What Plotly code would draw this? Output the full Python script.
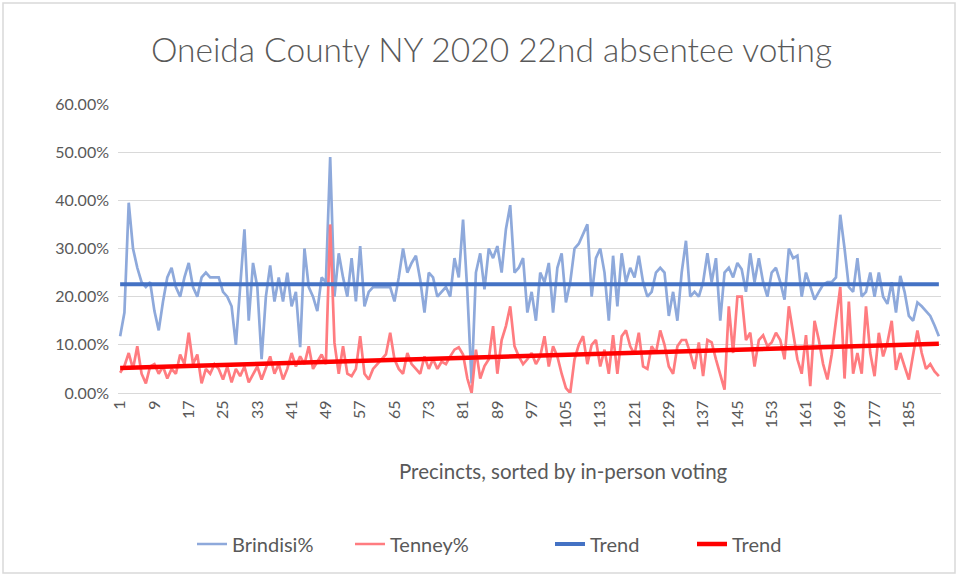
import plotly.graph_objects as go

# Brindisi% per precinct (sorted by in-person voting), in percent
brindisi = [
    11.8, 16.7, 39.5, 30, 26, 23, 22, 23, 17, 13, 19, 24,
    26, 22, 20, 24, 27, 22, 20, 24, 25, 24, 24, 24,
    21, 20, 18, 10, 22, 34, 15, 27, 22, 7, 20, 26.5,
    19, 24, 19, 25, 18, 21, 9.5, 30, 22, 20, 17, 24,
    23, 49, 20, 29, 24, 20, 28, 19, 30.5, 18, 21, 22,
    22, 22, 22, 22, 19, 24, 30, 25, 27, 28.5, 23.5, 16.7,
    25, 24, 20, 21, 22, 20, 28, 24, 36, 21, 2, 25,
    29, 21.5, 30, 28, 30.5, 25, 34, 39, 25, 26, 28, 16.7,
    21, 15, 25, 23, 27, 16.7, 26, 29, 18.8, 23, 30, 31,
    33, 35, 20, 28, 30, 25, 15, 28.5, 18, 29, 23, 26,
    24, 28.5, 23, 20, 21, 25, 26, 25, 16, 21, 15, 25,
    31.6, 20, 21, 20, 23, 29, 23, 28, 15, 25, 26, 24,
    27, 25.7, 21, 29, 23, 28, 23, 20, 25, 26, 23, 19.4,
    30, 28, 28.5, 20, 25, 22, 19.4, 21, 22.5, 23, 23, 24,
    37, 30, 22, 21, 28, 20, 21, 25, 20, 25, 20, 18.5,
    23, 16.7, 24.3, 21, 16, 15, 18.8, 18, 17, 16, 14, 11.8,
]

# Tenney% per precinct, in percent
tenney = [
    4.2, 5.6, 8.3, 5, 9.7, 4, 2, 5.5, 6, 4, 5.5, 3,
    5, 4, 8, 6, 12.5, 6, 8, 2, 5, 4, 6, 5,
    2.8, 5.5, 2.2, 5, 3.5, 5.5, 2.2, 4, 5.5, 2.8, 5, 7.6,
    4, 6, 2.8, 5, 8.3, 5.5, 7.6, 6, 9.7, 5, 6.5, 8,
    6, 35, 10.4, 4, 9.7, 4, 3.5, 5, 11.8, 4, 2.8, 5,
    6, 7, 8, 12.5, 7, 5, 4, 8.3, 6, 5, 4, 7.6,
    5, 7, 5, 6.5, 6, 7.6, 9, 9.5, 8, 3, 0, 9,
    3, 5.6, 7, 13.9, 4, 11, 13.9, 18, 9.7, 7.6, 6, 7,
    8.3, 6, 7.6, 11.8, 5.5, 9.7, 7.6, 4, 1, 0, 7, 10,
    11.8, 6, 10, 11, 5.5, 9, 4, 12, 4, 11.8, 13, 9.7,
    8, 12.5, 5.5, 5, 9.7, 8.3, 13, 10, 5.5, 4, 9.7, 11,
    11, 8.3, 5, 10.5, 3.5, 11, 10.5, 7, 4, 0.7, 18, 8.3,
    20, 20, 11, 12.5, 5.5, 11, 12, 9.7, 10.5, 12.5, 11, 7,
    18, 12.5, 7, 4, 12, 1.4, 15, 11, 6, 2.8, 8, 15,
    22, 3, 19, 4, 8.3, 4, 18, 8.3, 3.5, 12.5, 7.6, 10.5,
    15, 4.8, 8.3, 5.5, 2.8, 8, 13, 8.3, 5, 6, 4.5, 3.5,
]

# Trend lines (start / end values), in percent
trend_brindisi = [22.6, 22.6]
trend_tenney = [5.2, 10.2]

tick_labels = [str(v) for v in range(1, 193, 8)]

n_b = len(brindisi)
n_t = len(tenney)
precincts_b = list(range(1, n_b + 1))
precincts_t = list(range(1, n_t + 1))
n = max(n_b, n_t)
trend_x = [1, n]

to_frac = lambda arr: [v / 100 for v in arr]

FONT = "Lato"
GREY = "#595959"

fig = go.Figure()
fig.add_trace(go.Scatter(x=precincts_b, y=to_frac(brindisi), mode="lines", name="Brindisi%",
                         line=dict(color="#8EA9DB", width=2.7), legend="legend"))
fig.add_trace(go.Scatter(x=precincts_t, y=to_frac(tenney), mode="lines", name="Tenney%",
                         line=dict(color="#FF7C80", width=2.7), legend="legend2"))
fig.add_trace(go.Scatter(x=trend_x, y=to_frac(trend_brindisi), mode="lines", name="Trend",
                         line=dict(color="#4472C4", width=4), legend="legend3"))
fig.add_trace(go.Scatter(x=trend_x, y=to_frac(trend_tenney), mode="lines", name="Trend",
                         line=dict(color="#FF0000", width=4.5), legend="legend4"))

ml, mr, mt, mb = 118, 19, 104, 184
W, H = 960, 577
pw, ph = W - ml - mr, H - mt - mb

def px_x(p):
    return (p - ml) / pw

leg_y = (393 - 544) / ph
def leg(xpx):
    return dict(orientation="h", x=px_x(xpx), xanchor="left", y=leg_y, yanchor="middle",
                font=dict(size=20, color=GREY), bgcolor="rgba(0,0,0,0)")

fig.update_layout(
    width=W, height=H,
    margin=dict(l=ml, r=mr, t=mt, b=mb),
    paper_bgcolor="white", plot_bgcolor="white",
    font=dict(family=FONT, color=GREY, size=16),
    title=dict(text="Oneida County NY 2020 22nd absentee voting", x=491.5 / W, xanchor="center",
               y=1 - 50 / H, yanchor="middle",
               font=dict(family=FONT, size=33.5, color=GREY, weight=300)),
    xaxis=dict(range=[0.5, n + 0.5], tickmode="array",
               tickvals=[int(t) for t in tick_labels], ticktext=tick_labels,
               tickangle=-90, tickfont=dict(size=16, color=GREY),
               showgrid=False, zeroline=False, showline=True, linecolor="#D9D9D9", linewidth=1,
               ticks=""),
    yaxis=dict(range=[0, 0.6], dtick=0.1, tickformat=".2%", tickfont=dict(size=16, color=GREY),
               showgrid=True, gridcolor="#D9D9D9", gridwidth=1, zeroline=False, ticks="",
               ticklabelstandoff=8),
    legend=leg(192), legend2=leg(350), legend3=leg(550), legend4=leg(692),
    showlegend=True,
    annotations=[dict(text="Precincts, sorted by in-person voting", xref="paper", yref="paper",
                      x=px_x(563), y=(393 - 471) / ph, xanchor="center", yanchor="middle",
                      showarrow=False, font=dict(size=20.5, color=GREY, family=FONT))],
    shapes=[dict(type="rect", xref="paper", yref="paper",
                 x0=px_x(3), x1=px_x(955),
                 y0=(H - mb - 573) / ph, y1=(H - mb - 3) / ph,
                 line=dict(color="#D9D9D9", width=1.5), fillcolor="rgba(0,0,0,0)", layer="below")],
)

fig.write_html("out.html", config={"displayModeBar": False},
               post_script="document.body.style.margin='0';")
